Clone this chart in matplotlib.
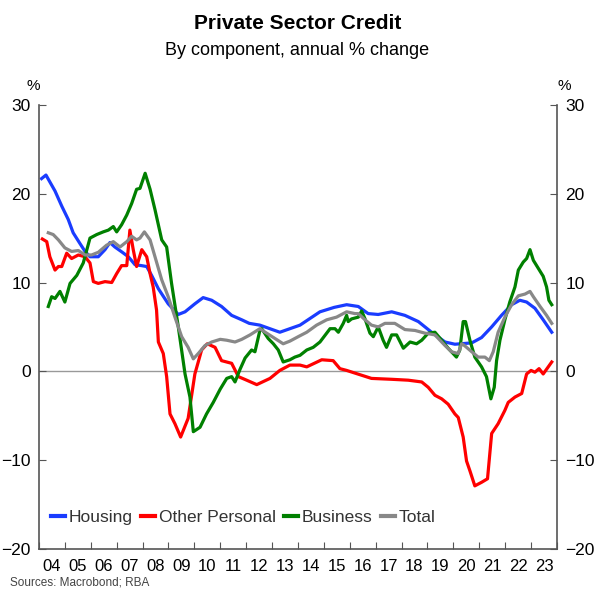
import matplotlib
matplotlib.use("Agg")
import matplotlib.pyplot as plt
from matplotlib.ticker import FixedLocator, NullFormatter

plt.rcParams['font.family'] = ['Liberation Sans', 'DejaVu Sans']

# Данные (год, % г/г)
housing_x = [2004.1, 2004.27, 2004.62, 2004.88, 2005.13, 2005.32, 2005.58, 2005.78, 2005.97,
             2006.29, 2006.55, 2006.74, 2006.93, 2007.22, 2007.45, 2007.71, 2007.96, 2008.16,
             2008.35, 2008.61, 2008.99, 2009.38, 2009.64, 2010.02, 2010.34, 2010.67, 2011.05,
             2011.44, 2011.83, 2012.12, 2012.53, 2013.3, 2014.08, 2014.85, 2015.4, 2015.88,
             2016.33, 2016.71, 2017.1, 2017.62, 2018.13, 2018.65, 2019.16, 2019.68, 2020.06,
             2020.71, 2021.09, 2021.48, 2021.86, 2022.25, 2022.57, 2022.83, 2023.15, 2023.47,
             2023.8]
housing_y = [21.7, 22.1, 20.3, 18.6, 17.1, 15.6, 14.4, 13.5, 12.9,
             12.9, 13.7, 14.5, 14.0, 13.4, 12.9, 12.0, 11.9, 11.8,
             10.8, 9.3, 7.6, 6.4, 6.7, 7.6, 8.3, 8.0, 7.3,
             6.3, 5.8, 5.4, 5.2, 4.4, 5.2, 6.7, 7.2, 7.5,
             7.3, 6.5, 6.4, 6.7, 6.3, 5.6, 4.4, 3.3, 3.05,
             3.2, 3.8, 5.0, 6.3, 7.5, 8.0, 7.8, 7.1, 5.8,
             4.4]

personal_x = [2004.13, 2004.3, 2004.42, 2004.62, 2004.75, 2004.88, 2005.07, 2005.26, 2005.52,
              2005.78, 2005.97, 2006.1, 2006.29, 2006.55, 2006.81, 2007.0, 2007.19, 2007.39,
              2007.51, 2007.64, 2007.77, 2007.97, 2008.16, 2008.29, 2008.41, 2008.54, 2008.61,
              2008.8, 2008.93, 2009.06, 2009.25, 2009.47, 2009.76, 2010.02, 2010.28, 2010.5,
              2010.8, 2011.05, 2011.44, 2011.7, 2012.02, 2012.41, 2012.92, 2013.3, 2013.69,
              2014.08, 2014.34, 2014.92, 2015.36, 2015.62, 2015.88, 2016.2, 2016.84, 2017.62,
              2018.26, 2018.78, 2019.03, 2019.29, 2019.55, 2019.8, 2020.06, 2020.19, 2020.38,
              2020.51, 2020.64, 2020.83, 2021.09, 2021.32, 2021.48, 2021.73, 2021.99, 2022.12,
              2022.38, 2022.64, 2022.83, 2023.0, 2023.15, 2023.31, 2023.47, 2023.8]
personal_y = [14.9, 14.6, 12.9, 11.4, 11.8, 11.8, 13.3, 12.7, 13.1,
              12.9, 12.2, 10.1, 9.9, 10.1, 10.0, 11.0, 11.9, 11.9,
              15.9, 13.7, 11.8, 13.7, 12.9, 11.0, 9.5, 6.9, 3.3,
              2.0, -0.6, -4.8, -5.9, -7.4, -5.3, -0.3, 2.4, 3.1,
              2.7, 1.2, 0.9, -0.6, -1.0, -1.5, -0.8, 0.1, 0.7,
              0.7, 0.5, 1.3, 1.2, 0.3, 0.1, -0.2, -0.8, -0.9,
              -1.0, -1.2, -1.8, -2.7, -3.1, -3.7, -4.8, -5.2, -7.4,
              -10.1, -11.2, -12.9, -12.5, -12.1, -7.0, -5.9, -4.4, -3.5,
              -2.9, -2.5, -0.3, 0.1, -0.1, 0.3, -0.3, 1.05]

business_x = [2004.36, 2004.49, 2004.62, 2004.81, 2005.0, 2005.2, 2005.46, 2005.71, 2005.97,
              2006.23, 2006.48, 2006.68, 2006.87, 2007.0, 2007.19, 2007.39, 2007.58, 2007.77,
              2007.9, 2008.1, 2008.29, 2008.48, 2008.74, 2008.93, 2009.12, 2009.38, 2009.64,
              2009.83, 2009.96, 2010.22, 2010.47, 2010.73, 2011.0, 2011.25, 2011.44, 2011.57,
              2011.76, 2011.96, 2012.21, 2012.34, 2012.53, 2012.6, 2012.85, 2013.05, 2013.24,
              2013.43, 2013.69, 2013.88, 2014.08, 2014.34, 2014.59, 2014.85, 2015.11, 2015.24,
              2015.43, 2015.56, 2015.75, 2015.88, 2015.94, 2016.07, 2016.33, 2016.46, 2016.59,
              2016.78, 2016.91, 2017.1, 2017.29, 2017.42, 2017.62, 2017.81, 2018.07, 2018.33,
              2018.58, 2018.78, 2019.03, 2019.29, 2019.55, 2019.8, 2020.12, 2020.25, 2020.38,
              2020.47, 2020.64, 2020.83, 2021.09, 2021.28, 2021.45, 2021.58, 2021.67, 2021.8,
              2021.99, 2022.18, 2022.38, 2022.51, 2022.7, 2022.83, 2022.96, 2023.09, 2023.28,
              2023.47, 2023.6, 2023.69, 2023.8]
business_y = [7.3, 8.4, 8.2, 9.0, 7.8, 9.9, 10.8, 12.2, 15.0,
              15.4, 15.7, 15.9, 16.3, 15.7, 16.5, 17.6, 18.9, 20.5,
              20.6, 22.3, 20.5, 18.2, 14.8, 14.0, 9.9, 5.0, -0.3,
              -2.9, -6.8, -6.3, -4.8, -3.5, -2.0, -0.8, -0.6, -1.2,
              0.2, 1.5, 2.4, 2.2, 4.6, 4.8, 3.7, 3.1, 2.4,
              1.05, 1.3, 1.6, 1.8, 2.4, 2.7, 3.3, 4.3, 4.8,
              4.8, 4.4, 5.4, 6.3, 5.6, 5.9, 6.1, 6.8, 5.9,
              4.3, 3.9, 5.0, 3.5, 2.7, 4.1, 4.1, 2.6, 3.3,
              3.1, 3.5, 4.3, 4.4, 3.5, 2.6, 1.6, 2.4, 5.6,
              5.6, 3.5, 1.6, 0.5, -0.6, -3.1, -1.8, 1.2, 3.5,
              5.8, 7.8, 9.5, 11.4, 12.3, 12.7, 13.7, 12.5, 11.6,
              10.7, 9.5, 8.0, 7.5]

total_x = [2004.36, 2004.55, 2004.75, 2005.0, 2005.26, 2005.52, 2005.78, 2006.03, 2006.29,
           2006.61, 2006.87, 2007.13, 2007.39, 2007.58, 2007.77, 2007.9, 2008.07, 2008.29,
           2008.48, 2008.74, 2008.99, 2009.25, 2009.51, 2009.76, 2009.96, 2010.15, 2010.41,
           2010.67, 2011.0, 2011.25, 2011.57, 2011.83, 2012.15, 2012.53, 2012.79, 2013.11,
           2013.43, 2013.69, 2014.01, 2014.34, 2014.72, 2015.11, 2015.49, 2015.75, 2015.88,
           2016.2, 2016.33, 2016.59, 2016.84, 2017.1, 2017.36, 2017.74, 2018.13, 2018.52,
           2018.9, 2019.29, 2019.68, 2019.93, 2020.19, 2020.32, 2020.43, 2020.71, 2020.96,
           2021.22, 2021.39, 2021.54, 2021.73, 2021.99, 2022.25, 2022.51, 2022.77, 2022.96,
           2023.09, 2023.35, 2023.6, 2023.8]
total_y = [15.6, 15.4, 14.8, 13.9, 13.5, 13.6, 13.1, 13.1, 13.4,
           14.2, 14.6, 14.0, 14.6, 15.2, 14.8, 15.0, 15.7, 14.8,
           12.9, 10.3, 8.4, 6.1, 3.9, 2.7, 1.4, 2.0, 2.9,
           3.3, 3.6, 3.5, 3.3, 3.6, 4.1, 4.8, 4.3, 3.7,
           3.1, 3.4, 3.9, 4.4, 5.2, 5.8, 6.1, 6.5, 6.7,
           6.5, 6.5, 5.8, 5.2, 5.0, 5.4, 5.4, 4.7, 4.6,
           4.3, 4.1, 2.9, 2.2, 2.0, 3.1, 2.9, 2.2, 1.6,
           1.6, 1.2, 2.2, 4.4, 6.1, 7.5, 8.5, 8.7, 9.0,
           8.4, 7.3, 6.3, 5.4]

year_labels = ['04', '05', '06', '07', '08', '09', '10', '11', '12', '13',
               '14', '15', '16', '17', '18', '19', '20', '21', '22', '23']
y_ticks = [-20, -10, 0, 10, 20, 30]

fig = plt.figure(figsize=(5.95, 5.96), dpi=100)
ax = fig.add_axes([0.0655, 0.079, 0.8705, 0.745])

lw = 2.3
ax.axhline(0, color='#999999', linewidth=1.0, zorder=1)
ax.plot(housing_x, housing_y, color='#1a3cff', linewidth=lw, label='Housing')
ax.plot(personal_x, personal_y, color='#ff0000', linewidth=lw, label='Other Personal')
ax.plot(business_x, business_y, color='#008000', linewidth=lw, label='Business')
ax.plot(total_x, total_y, color='#888888', linewidth=lw, label='Total')

ax.set_xlim(2004.0, 2024.0)
ax.set_ylim(-20, 30)

# годы: метки по центру года, засечки на границах
ax.xaxis.set_major_locator(FixedLocator([2004 + i for i in range(21)]))
ax.xaxis.set_major_formatter(NullFormatter())
ax.xaxis.set_minor_locator(FixedLocator([2004.5 + i for i in range(20)]))
ax.set_xticklabels(year_labels, minor=True)
ax.tick_params(axis='x', which='major', direction='in', length=5, color='#555555')
ax.tick_params(axis='x', which='minor', length=0, labelsize=12, pad=7)

ax.set_yticks(y_ticks)
ax.tick_params(axis='y', direction='in', length=5, color='#555555', labelsize=12.5,
               left=True, right=True, labelleft=True, labelright=True, pad=6)

for side in ['left', 'right', 'bottom']:
    ax.spines[side].set_color('#555555')
    ax.spines[side].set_linewidth(1.2)
ax.spines['top'].set_visible(False)

ax.text(-0.012, 1.027, '%', transform=ax.transAxes, ha='center', va='bottom', fontsize=11)
ax.text(1.015, 1.027, '%', transform=ax.transAxes, ha='center', va='bottom', fontsize=11)

leg = ax.legend(loc='lower left', bbox_to_anchor=(0.0, 0.027), ncol=4, frameon=False,
                handlelength=0.8, handletextpad=0.2, columnspacing=0.5,
                fontsize=12.5, borderaxespad=0.3)
for t in leg.get_texts():
    t.set_color('#333333')
for h in leg.get_lines():
    h.set_linewidth(3)

fig.text(0.5, 0.96, 'Private Sector Credit', ha='center', va='center',
         fontsize=15, fontweight='bold')
fig.text(0.5, 0.916, 'By component, annual % change', ha='center', va='center', fontsize=13)
fig.text(0.017, 0.022, 'Sources: Macrobond; RBA', ha='left', va='center', fontsize=8.5,
         color='#444444')

fig.savefig('out.png', dpi=100)
